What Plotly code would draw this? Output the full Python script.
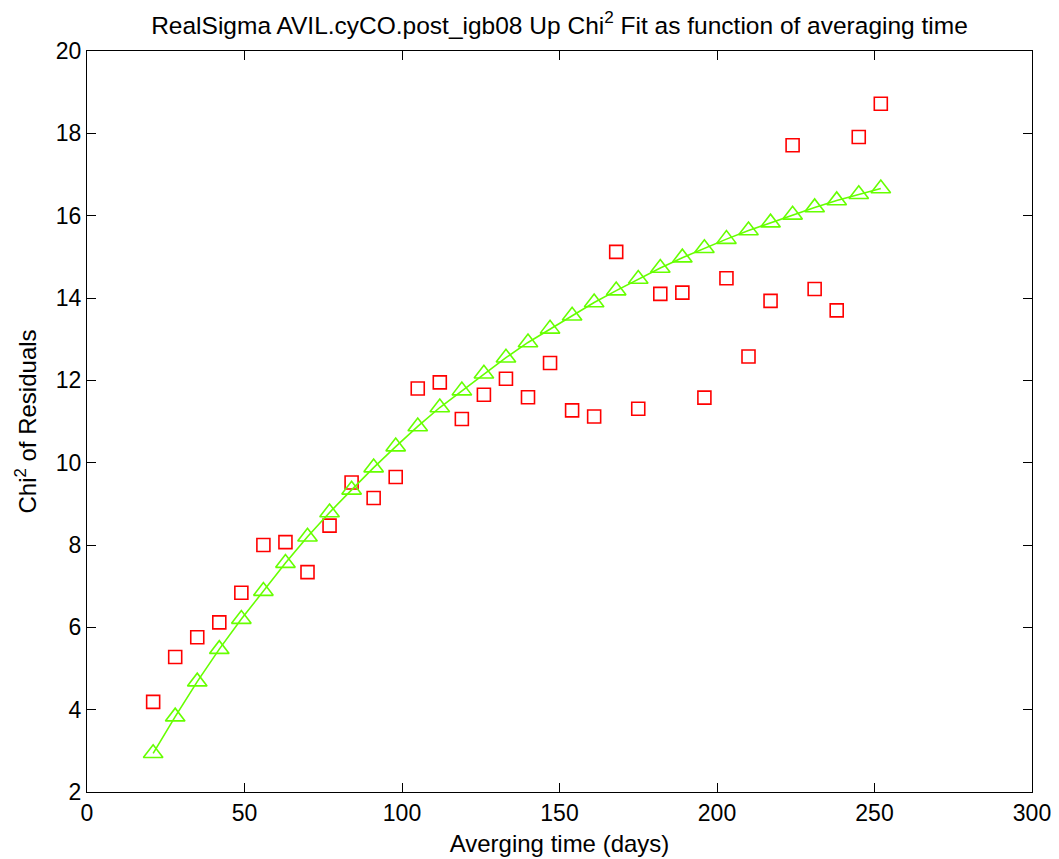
import plotly.graph_objects as go

days = [21, 28, 35, 42, 49, 56, 63, 70, 77, 84, 91, 98, 105, 112, 119, 126, 133,
        140, 147, 154, 161, 168, 175, 182, 189, 196, 203, 210, 217, 224, 231, 238, 245, 252]

chi2_residuals = [4.19, 5.28, 5.76, 6.12, 6.84, 8.00, 8.07, 7.34, 8.47, 9.52, 9.14, 9.65,
                  11.80, 11.95, 11.06, 11.65, 12.04, 11.59, 12.42, 11.27, 11.12, 15.12,
                  11.31, 14.10, 14.13, 11.58, 14.48, 12.58, 13.93, 17.71, 14.22, 13.70,
                  17.91, 18.72]

chi2_fit = [2.94, 3.83, 4.68, 5.47, 6.20, 6.88, 7.56, 8.20, 8.79, 9.34, 9.88, 10.39,
            10.88, 11.34, 11.75, 12.16, 12.55, 12.92, 13.25, 13.57, 13.89, 14.18, 14.46,
            14.73, 14.98, 15.21, 15.43, 15.64, 15.83, 16.02, 16.20, 16.37, 16.52, 16.66]

x_ticks = [0, 50, 100, 150, 200, 250, 300]
y_ticks = [2, 4, 6, 8, 10, 12, 14, 16, 18, 20]

FONT = "Liberation Sans, Arial, sans-serif"

fig = go.Figure()
fig.add_trace(go.Scatter(
    x=days, y=chi2_residuals, mode="markers",
    marker=dict(symbol="square-open", size=13, color="#FF0000", line=dict(width=1.6, color="#FF0000")),
    showlegend=False, cliponaxis=False))
fig.add_trace(go.Scatter(
    x=days, y=chi2_fit, mode="lines+markers",
    line=dict(color="#66FF00", width=1.6),
    marker=dict(symbol="triangle-up-open", size=17, color="#66FF00", line=dict(width=1.6, color="#66FF00")),
    showlegend=False, cliponaxis=False))

axis_common = dict(
    showgrid=False, zeroline=False, showline=True, linecolor="black", linewidth=1.2,
    mirror="allticks", ticks="inside", ticklen=9, tickwidth=1, tickcolor="black",
    tickfont=dict(family=FONT, size=23, color="black"), automargin=False,
)

fig.update_layout(
    width=1051, height=851,
    margin=dict(l=79, r=27, t=43, b=67),
    paper_bgcolor="white", plot_bgcolor="white",
    font=dict(family=FONT, color="black"),
    title=dict(text="RealSigma AVIL.cyCO.post_igb08 Up Chi<sup>2</sup> Fit as function of averaging time",
               x=0.5, xanchor="center", xref="paper", y=0.98, yanchor="middle", yref="container",
               font=dict(family=FONT, size=24.5, color="black")),
    xaxis=dict(range=[0, 300], tickvals=x_ticks, title=dict(text="Averging time (days)", standoff=10,
               font=dict(family=FONT, size=24)), **axis_common),
    yaxis=dict(range=[2, 20], tickvals=y_ticks, title=dict(text="Chi<sup>2</sup> of Residuals", standoff=12,
               font=dict(family=FONT, size=24)), **axis_common),
)

fig.write_html("out.html")
